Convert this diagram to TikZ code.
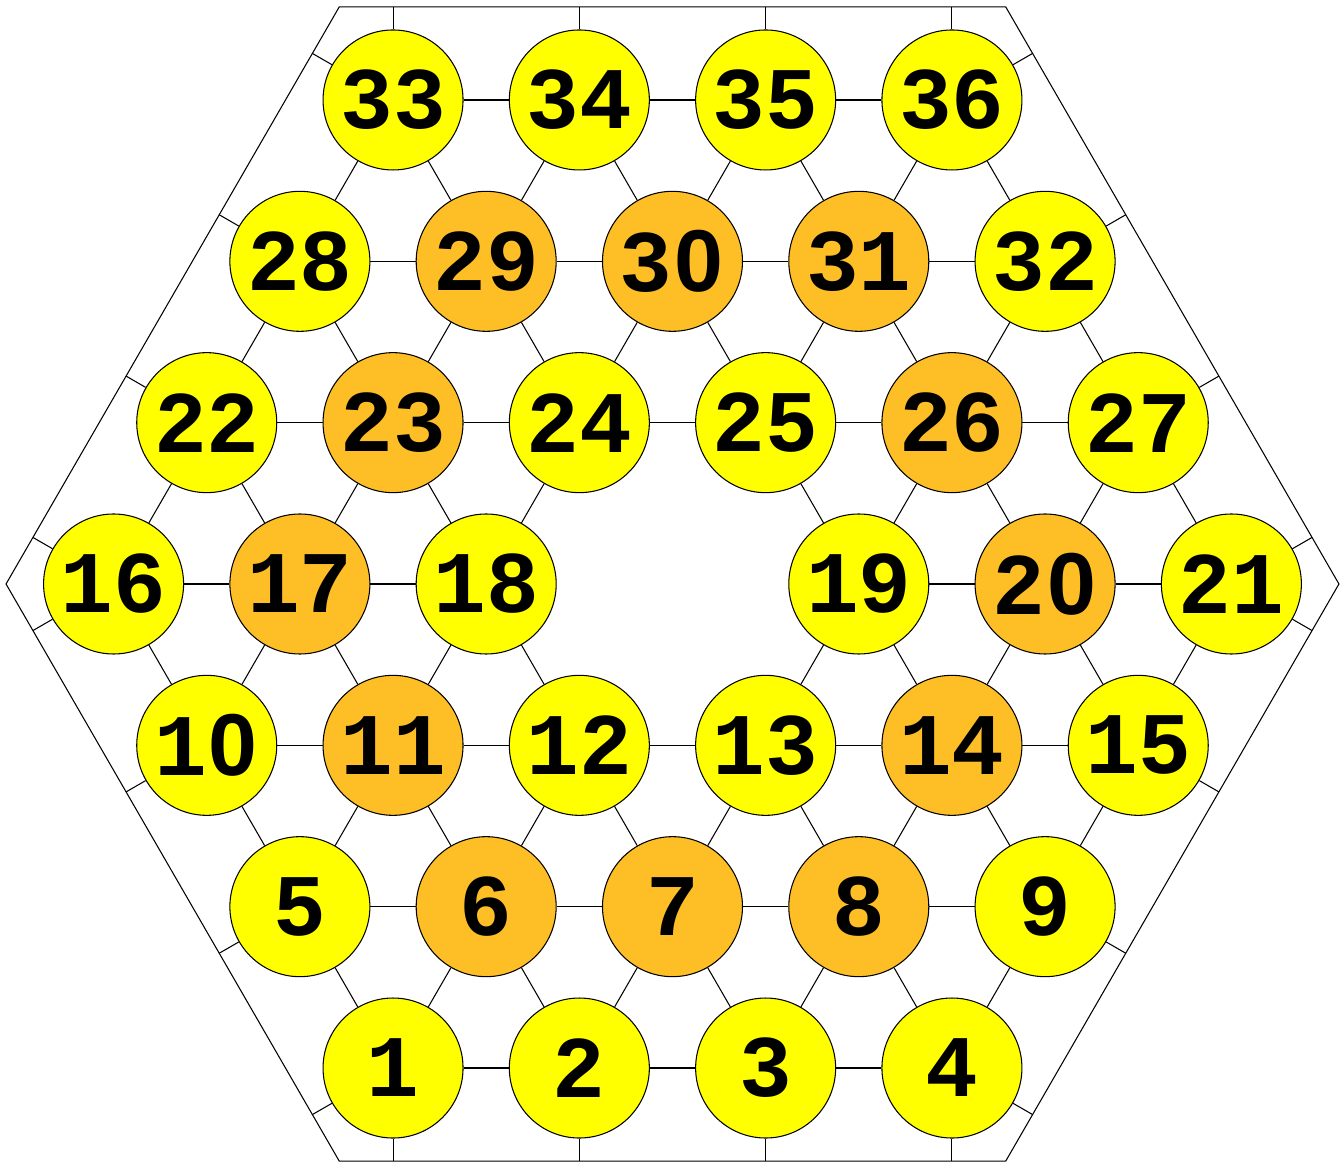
\documentclass[tikz,border=0pt]{standalone}
\usepackage{fontspec}
\setmonofont{Liberation Mono}
\newfontfamily\plainzero{Liberation Sans}
\usepackage{xcolor}
\usepackage{tikz}

\definecolor{siteyellow}{RGB}{255,255,0}
\definecolor{siteorange}{RGB}{254,190,38}
\newcommand{\zr}{\makebox[0.6em]{\plainzero 0}}
\tikzset{
  site/.style={draw,circle,fill=siteyellow,minimum size=1.4cm,inner sep=0pt,
    font=\ttfamily\bfseries\fontsize{25}{25}\selectfont},
  core/.style={site,fill=siteorange},
}

\begin{document}
\begin{tikzpicture}[x=1.863cm,y=1.6134cm,line width=0.3pt]
  \useasboundingbox (-6.725cm,-5.79cm) rectangle (6.715cm,5.84cm);
  % boundary
  \draw (-6.6645cm,0cm) -- (-3.332cm,5.7717cm) -- (3.332cm,5.7717cm)
     -- (6.6645cm,0cm) -- (3.332cm,-5.7717cm) -- (-3.332cm,-5.7717cm) -- cycle;
  % sites
  \node[site] (n1) at (-1.5,-3) {1};
  \node[site] (n2) at (-0.5,-3) {2};
  \node[site] (n3) at (0.5,-3) {3};
  \node[site] (n4) at (1.5,-3) {4};
  \node[site] (n5) at (-2,-2) {5};
  \node[core] (n6) at (-1,-2) {6};
  \node[core] (n7) at (0,-2) {7};
  \node[core] (n8) at (1,-2) {8};
  \node[site] (n9) at (2,-2) {9};
  \node[site] (n10) at (-2.5,-1) {1\zr};
  \node[core] (n11) at (-1.5,-1) {11};
  \node[site] (n12) at (-0.5,-1) {12};
  \node[site] (n13) at (0.5,-1) {13};
  \node[core] (n14) at (1.5,-1) {14};
  \node[site] (n15) at (2.5,-1) {15};
  \node[site] (n16) at (-3,0) {16};
  \node[core] (n17) at (-2,0) {17};
  \node[site] (n18) at (-1,0) {18};
  \node[site] (n19) at (1,0) {19};
  \node[core] (n20) at (2,0) {2\zr};
  \node[site] (n21) at (3,0) {21};
  \node[site] (n22) at (-2.5,1) {22};
  \node[core] (n23) at (-1.5,1) {23};
  \node[site] (n24) at (-0.5,1) {24};
  \node[site] (n25) at (0.5,1) {25};
  \node[core] (n26) at (1.5,1) {26};
  \node[site] (n27) at (2.5,1) {27};
  \node[site] (n28) at (-2,2) {28};
  \node[core] (n29) at (-1,2) {29};
  \node[core] (n30) at (0,2) {3\zr};
  \node[core] (n31) at (1,2) {31};
  \node[site] (n32) at (2,2) {32};
  \node[site] (n33) at (-1.5,3) {33};
  \node[site] (n34) at (-0.5,3) {34};
  \node[site] (n35) at (0.5,3) {35};
  \node[site] (n36) at (1.5,3) {36};
  % bonds
  \path (n1) edge (n2) (n2) edge (n3) (n3) edge (n4)
        (n5) edge (n6) (n6) edge (n7) (n7) edge (n8) (n8) edge (n9)
        (n10) edge (n11) (n11) edge (n12) (n12) edge (n13) (n13) edge (n14) (n14) edge (n15)
        (n16) edge (n17) (n17) edge (n18) (n19) edge (n20) (n20) edge (n21)
        (n22) edge (n23) (n23) edge (n24) (n24) edge (n25) (n25) edge (n26) (n26) edge (n27)
        (n28) edge (n29) (n29) edge (n30) (n30) edge (n31) (n31) edge (n32)
        (n33) edge (n34) (n34) edge (n35) (n35) edge (n36);
  \path (n1) edge (n5) (n1) edge (n6) (n2) edge (n6) (n2) edge (n7)
        (n3) edge (n7) (n3) edge (n8) (n4) edge (n8) (n4) edge (n9)
        (n5) edge (n10) (n5) edge (n11) (n6) edge (n11) (n6) edge (n12)
        (n7) edge (n12) (n7) edge (n13) (n8) edge (n13) (n8) edge (n14)
        (n9) edge (n14) (n9) edge (n15)
        (n10) edge (n16) (n10) edge (n17) (n11) edge (n17) (n11) edge (n18)
        (n12) edge (n18) (n13) edge (n19) (n14) edge (n19) (n14) edge (n20)
        (n15) edge (n20) (n15) edge (n21)
        (n16) edge (n22) (n17) edge (n22) (n17) edge (n23) (n18) edge (n23)
        (n18) edge (n24) (n19) edge (n25) (n19) edge (n26) (n20) edge (n26)
        (n20) edge (n27) (n21) edge (n27)
        (n22) edge (n28) (n23) edge (n28) (n23) edge (n29) (n24) edge (n29)
        (n24) edge (n30) (n25) edge (n30) (n25) edge (n31) (n26) edge (n31)
        (n26) edge (n32) (n27) edge (n32)
        (n28) edge (n33) (n29) edge (n33) (n29) edge (n34) (n30) edge (n34)
        (n30) edge (n35) (n31) edge (n35) (n31) edge (n36) (n32) edge (n36);
  % stubs to the boundary
  \draw (n33) -- ++(90:0.9315cm)  (n34) -- ++(90:0.9315cm)
        (n35) -- ++(90:0.9315cm)  (n36) -- ++(90:0.9315cm);
  \draw (n1) -- ++(-90:0.9315cm)  (n2) -- ++(-90:0.9315cm)
        (n3) -- ++(-90:0.9315cm)  (n4) -- ++(-90:0.9315cm);
  \draw (n16) -- ++(150:0.9315cm) (n22) -- ++(150:0.9315cm)
        (n28) -- ++(150:0.9315cm) (n33) -- ++(150:0.9315cm);
  \draw (n36) -- ++(30:0.9315cm)  (n32) -- ++(30:0.9315cm)
        (n27) -- ++(30:0.9315cm)  (n21) -- ++(30:0.9315cm);
  \draw (n21) -- ++(-30:0.9315cm) (n15) -- ++(-30:0.9315cm)
        (n9) -- ++(-30:0.9315cm)  (n4) -- ++(-30:0.9315cm);
  \draw (n1) -- ++(-150:0.9315cm) (n5) -- ++(-150:0.9315cm)
        (n10) -- ++(-150:0.9315cm) (n16) -- ++(-150:0.9315cm);
\end{tikzpicture}
\end{document}
